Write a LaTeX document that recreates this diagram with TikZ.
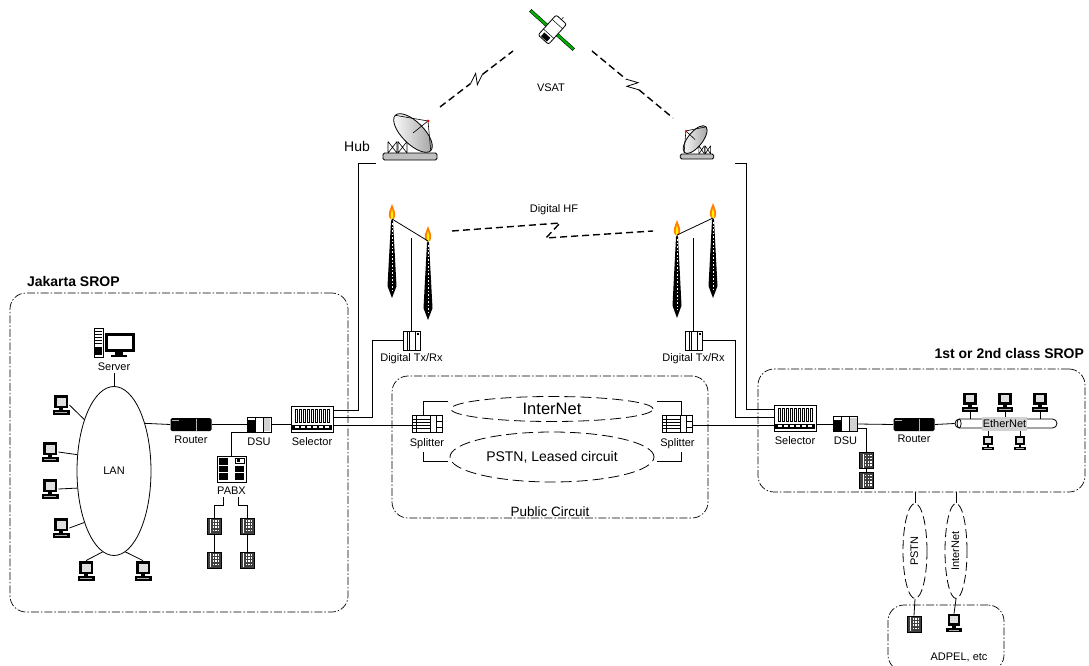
\documentclass[tikz,border=0pt]{standalone}
\usepackage{fontspec}
\setmainfont{Liberation Sans}
\usetikzlibrary{positioning,calc,shapes.geometric}

\begin{document}
\begin{tikzpicture}
	[
	x=1pt, y=-1pt,
	line width=0.8pt,
	lbl/.style = {font=\fontsize{11}{13}\selectfont, inner sep=0.5pt, text height=8pt, text depth=2pt},
	title/.style = {font=\fontsize{14}{16}\selectfont\bfseries, inner sep=0pt},
	site/.style = {draw, rounded corners=16pt, line width=0.7pt, dash pattern=on 8pt off 2pt on 1.5pt off 2pt, inner sep=0pt},
	netcloud/.style = {draw, ellipse, inner sep=0pt, line width=0.8pt, dash pattern=on 11pt off 5pt},
	hop/.style = {line width=1.4pt, dash pattern=on 7pt off 4pt},
	% device icons, drawn around the origin (y grows downwards)
	pc/.pic = {
		\node[minimum width=16pt, minimum height=20pt, inner sep=0pt, transform shape] (-n) {};
		\fill (-7,-10) rectangle (7,3);
		\fill[gray!25] (-4.5,-7.5) rectangle (4.5,0.5);
		\fill (-2,3) rectangle (2,5);
		\fill (-8.5,5) rectangle (8.5,10);
		\draw[gray!60, line width=0.5pt] (-6,7.5) -- (6,7.5);
	},
	server/.pic = {
		\node[minimum width=42pt, minimum height=30pt, inner sep=0pt] (-n) {};
		\draw[fill=white] (-20,-15) rectangle (-11,14);
		\foreach \k in {-12,-9,...,0} \draw[line width=0.5pt] (-19,\k) -- (-12,\k);
		\fill (-19,4) rectangle (-12,12);
		\fill (-9,-10) rectangle (21,9);
		\fill[white] (-6,-7) rectangle (18,6);
		\fill (1,9) rectangle (9,12);
		\fill (-3,12) rectangle (13,14);
	},
	router/.pic = {
		\node[fill=black, rounded corners=1.5pt, minimum width=41pt, minimum height=13pt, inner sep=0pt] (-n) {};
		\draw[gray!60, line width=0.5pt] (5,-6) -- (5,6);
		\draw[gray!60, line width=0.4pt] (-19,-4.5) -- (-12,-4.5);
	},
	dsu/.pic = {
		\node[draw, fill=white, minimum width=24pt, minimum height=15pt, inner sep=0pt] (-n) {};
		\fill (-12,-4.5) rectangle (-4,7.5);
		\fill[gray!35] (4.5,-6.5) rectangle (11,6.5);
		\draw (-4,-7.5) -- (-4,7.5) (4,-7.5) -- (4,7.5);
	},
	selector/.pic = {
		\node[draw, fill=white, minimum width=42pt, minimum height=26pt, inner sep=0pt] (-n) {};
		\foreach \i in {0,...,8}
			\draw[line width=0.5pt] (-17.2+\i*4,-10) rectangle ++(2.4,13);
		\fill (-20,5.5) rectangle (20,10.5);
		\foreach \i in {0,...,5}
			\fill[white] (-17.5+\i*6,7) rectangle ++(4.5,2);
	},
	pabx/.pic = {
		\node[draw, fill=white, minimum width=29pt, minimum height=26pt, inner sep=0pt] (-n) {};
		\foreach \y in {-11,-3.5,4}
			\fill (-12.5,\y) rectangle (-3.5,\y+6.5);
		\foreach \y in {-3.5,4}
			\fill (3,\y) rectangle (12.5,\y+6.5);
		\draw[line width=0.5pt] (3.5,-11) rectangle (12.5,-6);
		\fill (5,-10) rectangle (8,-7);
	},
	phone/.pic = {
		\node[draw, fill=black!75, minimum width=14pt, minimum height=16pt, inner sep=0pt] (-n) {};
		\fill[white] (-3.6,-7) rectangle (-3,7);
		\foreach \r in {0,...,3} \foreach \c in {0,1,2}
			\fill[white] (-1.5+\c*2.6,-6+\r*3.2) rectangle ++(1.4,1.6);
	},
	splitter/.pic = {
		\node[draw, fill=white, minimum width=30pt, minimum height=17pt, inner sep=0pt] (-n) {};
		\draw[line width=0.5pt] (-11,-8.5) -- (-11,8.5) (3,-8.5) -- (3,8.5) (9,-8.5) -- (9,8.5);
		\foreach \y in {-4.5,-1.5,1.5,4.5} \draw[line width=0.4pt] (-15,\y) -- (3,\y);
		\draw (9,-2) rectangle (15,4);
	},
	txrx/.pic = {
		\node[draw, fill=white, minimum width=17pt, minimum height=19pt, inner sep=0pt] (-n) {};
		\draw (-4,-9.5) -- (-4,9.5) (4,-9.5) -- (4,9.5);
		\draw[line width=1.4pt] (-2,-9.5) -- (-2,9.5);
		\fill (5.5,-8) rectangle (7,-6);
	},
	tower/.pic = {
		\coordinate (-top) at (0,0);
		\fill[orange] (0,-15) .. controls (2,-9) and (5,-5) .. (2,0) -- (-2,0) .. controls (-5,-5) and (-2,-9) .. (0,-15);
		\fill[yellow] (0,-10) .. controls (1,-6) and (2,-3) .. (1,0) -- (-1,0) .. controls (-2,-3) and (-1,-6) .. (0,-10);
		\fill (0,0) -- (1,2) -- (4.5,0.85*#1) -- (0,#1) -- (-4.5,0.85*#1) -- (-1,2) -- cycle;
		\draw[white, line width=1pt, dash pattern=on 1.5pt off 2pt] (0,4) -- (0,0.9*#1);
	},
	dish/.pic = {
		\node[draw, fill=gray!50, rounded corners=1.5pt, minimum width=54pt, minimum height=7pt, inner sep=0pt, transform shape] (-n) {};
		\foreach \x in {-22,-12}
			\draw[line width=0.6pt] (\x,-3.5) -- (\x+9,-15) (\x,-15) -- (\x+9,-3.5) (\x,-3.5) -- (\x,-15) (\x+9,-3.5) -- (\x+9,-15);
		\shadedraw[left color=white, right color=gray!75, rotate around={-45:(3,-23.5)}] (3,-23.5) ellipse [x radius=25pt, y radius=11pt];
		\draw[line width=0.6pt] (-14.7,-41.2) -- (18,-35.5) -- (20.7,-5.8) (18,-35.5) -- (3,-23.5);
		\fill[red] (18,-35.5) circle (1.5pt);
	},
	satellite/.pic = {
		\coordinate (-c) at (0,0);
		\begin{scope}[rotate=-42]
			\draw[fill=green!70!black, line width=0.4pt] (-29,-1.5) rectangle (29,1.5);
			\draw[fill=white, line width=0.8pt, rounded corners=2pt] (-7,-14) rectangle (7,13);
			\draw[line width=0.5pt] (-7,-8) -- (7,-8) (-7,5) -- (7,5) (0,-14) -- (0,-17);
			\fill (-4,7) rectangle (4,12);
		\end{scope}
	}
	]
	\useasboundingbox (0,0) rectangle (1089,666);

	% sites
	\node[site, minimum width=338pt, minimum height=319pt] (jsite) at (179,452.5) {};
	\node[site, minimum width=316pt, minimum height=142pt] (pcirc) at (550,447) {};
	\node[site, minimum width=327pt, minimum height=123pt] (rsite) at (921.5,430.5) {};
	\node[site, minimum width=116pt, minimum height=66pt] (asite) at (946,638) {};
	\node[title, above right=6pt and 17pt of jsite.north west] (jtitle) {Jakarta SROP};
	\node[title, above left=10pt and 1pt of rsite.north east] (rtitle) {1st or 2nd class SROP};
	\node[font=\fontsize{13.5}{15}\selectfont, inner sep=0pt, above=1pt of pcirc.south] (pctitle) {Public Circuit};

	% VSAT
	\pic (sat) at (552,30) {satellite};
	\pic (ldish) at (410,156.5) {dish};
	\pic[xscale=-0.62, yscale=0.72] (rdish) at (697,156.5) {dish};
	\node[font=\fontsize{14}{16}\selectfont, inner sep=0pt] (hublbl) at (357,146) {Hub};
	\node[lbl] (vsatlbl) at (551,89) {VSAT};
	\coordinate (lsky) at (440,107);
	\coordinate (satw) at (513,51);
	\coordinate (sate) at (592,51);
	\coordinate (rsky) at (673,118);
	\draw[hop] (lsky) -- ($(lsky)!0.42!(satw)$) ($(lsky)!0.58!(satw)$) -- (satw);
	\draw ($(lsky)!0.42!(satw)$) -- ($(lsky)!0.53!(satw)!5pt!90:(satw)$) -- ($(lsky)!0.47!(satw)!5pt!-90:(satw)$) -- ($(lsky)!0.58!(satw)$);
	\draw[hop] (sate) -- ($(sate)!0.42!(rsky)$) ($(sate)!0.58!(rsky)$) -- (rsky);
	\draw ($(sate)!0.42!(rsky)$) -- ($(sate)!0.53!(rsky)!5pt!90:(rsky)$) -- ($(sate)!0.47!(rsky)!5pt!-90:(rsky)$) -- ($(sate)!0.58!(rsky)$);

	% Digital HF
	\pic (ta) at (392,219) {tower=79};
	\pic (tb) at (428,241) {tower=79};
	\pic (tc) at (677,235) {tower=83};
	\pic (td) at (713,218) {tower=80};
	\draw (ta-top) -- (tb-top);
	\draw (tc-top) -- (td-top);
	\coordinate (hfw) at (452,231);
	\coordinate (hfa) at (560,223);
	\coordinate (hfb) at (546,238);
	\coordinate (hfe) at (653,231);
	\draw[hop] (hfw) -- (hfa) -- (hfb) -- (hfe);
	\node[lbl] (hflbl) at (554,209) {Digital HF};
	\pic (ltx) at (411.5,340.5) {txrx};
	\pic (rtx) at (693.5,340.5) {txrx};
	\node[lbl, below=2pt of ltx-n] (ltxlbl) {Digital Tx/Rx};
	\node[lbl, below=2pt of rtx-n] (rtxlbl) {Digital Tx/Rx};
	\draw (ltx-n.north) -- ++(0,-93);
	\draw (rtx-n.north) -- ++(0,-93);

	% Jakarta LAN
	\pic (srv) at (114,343) {server};
	\node[lbl, below=3pt of srv-n] (srvlbl) {Server};
	\node[ellipse, draw, minimum width=74pt, minimum height=169pt, inner sep=0pt, font=\fontsize{11}{13}\selectfont] (lan) at (114,471) {LAN};
	\pic (pc1) at (61,405) {pc};
	\pic (pc2) at (50,452) {pc};
	\pic (pc3) at (50,489) {pc};
	\pic (pc4) at (61,528) {pc};
	\pic (pc5) at (86,571) {pc};
	\pic (pc6) at (143,571) {pc};
	\draw (srvlbl) -- (lan.north);
	\draw (pc1-n.east) -- (lan.120);
	\draw (pc2-n.east) -- (lan.156);
	\draw (pc3-n.east) -- (lan.205);
	\draw (pc4-n.east) -- (lan.240);
	\draw (pc5-n.north) -- (lan.262);
	\draw (pc6-n.north) -- (lan.278);

	\pic (jrouter) at (191,424.5) {router};
	\pic (jdsu) at (259,424.5) {dsu};
	\pic (jsel) at (312,419) {selector};
	\node[lbl, below=3pt of jrouter-n] (jrouterlbl) {Router};
	\node[lbl, below=4pt of jdsu-n] (jdsulbl) {DSU};
	\node[lbl, below=4pt of jsel-n] (jsellbl) {Selector};
	\draw (lan.57) -- (jrouter-n.west);
	\draw (jrouter-n.east) -- (jdsu-n.west);
	\draw (jdsu-n.east) -- (jdsu-n.east -| jsel-n.west);

	\pic (pabx) at (231.5,469) {pabx};
	\node[lbl, below=3pt of pabx-n] (pabxlbl) {PABX};
	\draw (jdsu-n.south west) -| (pabx-n.north);
	\pic (ph1) at (214,526) {phone};
	\pic (ph2) at (214,560) {phone};
	\pic (ph3) at (247,526) {phone};
	\pic (ph4) at (247,560) {phone};
	\draw ([xshift=-8pt]pabxlbl.south) -- ++(0,8) -| (ph1-n.north);
	\draw ([xshift=7pt]pabxlbl.south) -- ++(0,8) -| (ph3-n.north);
	\draw (ph1-n.south) -- (ph2-n.north);
	\draw (ph3-n.south) -- (ph4-n.north);

	% uplinks of the Jakarta selector
	\coordinate (lhubin) at (376,163);
	\draw ([yshift=9pt]jsel-n.east) -- ++(25,0) |- (lhubin);
	\draw ([yshift=2pt]jsel-n.east) -- ++(39,0) |- (ltx-n.west);

	% public circuit
	\pic (lspl) at (427,423.5) {splitter};
	\pic (rspl) at (677.5,423.5) {splitter};
	\node[lbl, below=5pt of lspl-n] (lspllbl) {Splitter};
	\node[lbl, below=5pt of rspl-n] (rspllbl) {Splitter};
	\node[netcloud, minimum width=202pt, minimum height=25pt, font=\fontsize{16.5}{18}\selectfont] (inet) at (552,409) {InterNet};
	\node[netcloud, minimum width=204pt, minimum height=50pt, font=\fontsize{14}{16}\selectfont] (pstn) at (552,457) {PSTN, Leased circuit};
	\draw ([yshift=-6pt]jsel-n.east) -- ([yshift=-1.5pt]lspl-n.west);
	\draw ([xshift=-4pt]lspl-n.north) |- ++(25,-13);
	\draw ([xshift=-4pt,yshift=-3pt]lspllbl.south) |- ++(25,9);
	\draw ([xshift=4pt]rspl-n.north) |- ++(-25,-13);
	\draw ([xshift=4pt,yshift=-3pt]rspllbl.south) |- ++(-25,9);

	% 1st or 2nd class site
	\pic (rsel) at (795,418) {selector};
	\pic (rdsu) at (845.5,424) {dsu};
	\pic (rrouter) at (914,424.5) {router};
	\node[lbl, below=4pt of rsel-n] (rsellbl) {Selector};
	\node[lbl, below=4pt of rdsu-n] (rdsulbl) {DSU};
	\node[lbl, below=2pt of rrouter-n] (rrouterlbl) {Router};
	\coordinate (rhubin) at (735,163);
	\draw (rhubin) -- ++(11,0) |- ([yshift=9pt]rsel-n.west);
	\draw (rtx-n.east) -- ++(33,0) |- ([yshift=1pt]rsel-n.west);
	\draw ([yshift=-1.5pt]rspl-n.east) -- ([yshift=-7pt]rsel-n.west);
	\draw (rsel-n.east |- rdsu-n.west) -- (rdsu-n.west);
	\draw (rdsu-n.east) -- (rrouter-n.west);
	\pic (rph1) at (866.5,460.5) {phone};
	\pic (rph2) at (866.5,480.5) {phone};
	\draw ([yshift=-4pt]rdsu-n.east) -| (rph1-n.north);
	\draw (rph1-n.south) -- (rph2-n.north);

	\node[draw, fill=white, rounded corners=4.5pt, minimum width=102pt, minimum height=9pt, inner sep=0pt] (ebar) at (1006,423.5) {};
	\draw ([xshift=4.5pt]ebar.west) ellipse [x radius=2pt, y radius=4.5pt];
	\draw (rrouter-n.east) -- (ebar.west);
	\pic[scale=0.95] (epc1) at (970,402) {pc};
	\pic[scale=0.95] (epc2) at (1005,402) {pc};
	\pic[scale=0.95] (epc3) at (1040,402) {pc};
	\pic[scale=0.7] (epc4) at (988,443) {pc};
	\pic[scale=0.7] (epc5) at (1020,443) {pc};
	\draw (epc1-n.south) -- (epc1-n.south |- ebar.north);
	\draw (epc2-n.south) -- (epc2-n.south |- ebar.north);
	\draw (epc3-n.south) -- (epc3-n.south |- ebar.north);
	\draw (epc4-n.north) -- (epc4-n.north |- ebar.south);
	\draw (epc5-n.north) -- (epc5-n.north |- ebar.south);
	\node[fill=gray!35, minimum width=45pt, minimum height=14pt, inner sep=0pt, font=\fontsize{11}{13}\selectfont] (elbl) at (1004.5,424) {EtherNet};

	% remote users
	\node[netcloud, minimum width=24pt, minimum height=95pt, dash pattern=on 9pt off 4pt] (pstnv) at (915,551) {};
	\node[netcloud, minimum width=22pt, minimum height=95pt, dash pattern=on 9pt off 4pt] (inetv) at (956,551) {};
	\node[lbl, rotate=90] (pstnvlbl) at (pstnv) {PSTN};
	\node[lbl, rotate=90] (inetvlbl) at (inetv) {InterNet};
	\draw (rsite.south -| pstnv.north) -- (pstnv.north);
	\draw (rsite.south -| inetv.north) -- (inetv.north);
	\pic (aph) at (914,624) {phone};
	\pic[scale=0.9] (apc) at (954,623) {pc};
	\draw (pstnv.south) -- (aph-n.north);
	\draw (inetv.south) -- (apc-n.north);
	\node[lbl] (adpellbl) at (959,657) {ADPEL, etc};
\end{tikzpicture}
\end{document}
